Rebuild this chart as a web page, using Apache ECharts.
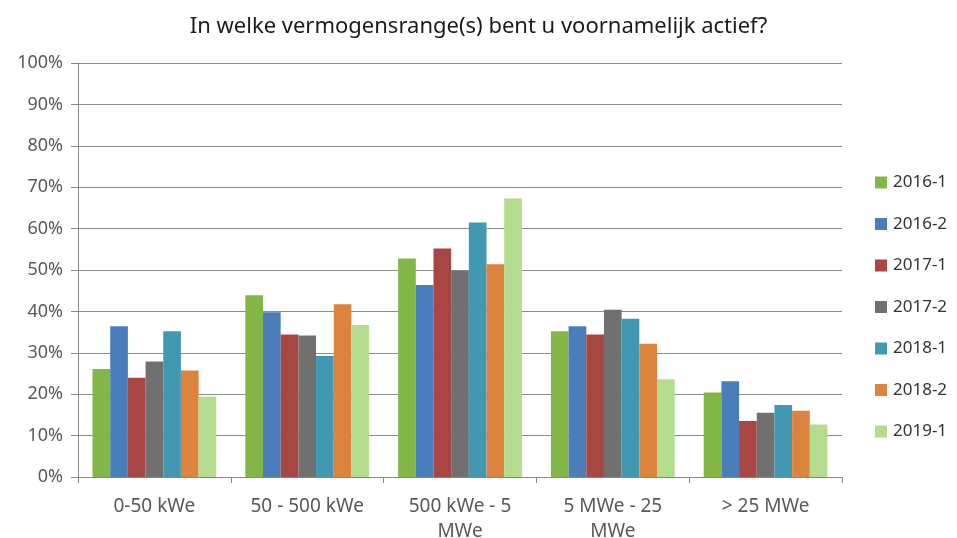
<!DOCTYPE html>
<html>
<head>
<meta charset="utf-8">
<script src="https://cdn.jsdelivr.net/npm/echarts@6/dist/echarts.min.js"></script>
<style>html,body{margin:0;padding:0;background:#fff;overflow:hidden}#c{width:957px;height:538px}</style>
</head>
<body>
<div id="c"></div>
<script>
const titleText = 'In welke vermogensrange(s) bent u voornamelijk actief?';
const categories = ['0-50 kWe', '50 - 500 kWe', '500 kWe - 5\nMWe', '5 MWe - 25\nMWe', '> 25 MWe'];
const seriesNames = ['2016-1', '2016-2', '2017-1', '2017-2', '2018-1', '2018-2', '2019-1'];
const colors = ['#82b646', '#4a7ebb', '#a84644', '#707070', '#4298b0', '#dc833e', '#b3dc8f'];
const s2016_1 = [26.1, 43.9, 52.8, 35.2, 20.4];
const s2016_2 = [36.4, 39.8, 46.4, 36.4, 23.1];
const s2017_1 = [24.0, 34.4, 55.2, 34.4, 13.5];
const s2017_2 = [27.9, 34.2, 49.8, 40.4, 15.5];
const s2018_1 = [35.2, 29.2, 61.5, 38.2, 17.4];
const s2018_2 = [25.7, 41.7, 51.4, 32.2, 16.0];
const s2019_1 = [19.4, 36.7, 67.3, 23.6, 12.7];
const seriesValues = [s2016_1, s2016_2, s2017_1, s2017_2, s2018_1, s2018_2, s2019_1];

const font = 'Noto Sans';
const chart = echarts.init(document.getElementById('c'), null, {renderer: 'canvas', width: 957, height: 538});
chart.setOption({
  animation: false,
  color: colors,
  title: {
    text: titleText, left: 'center', top: 11,
    textStyle: {fontFamily: font, fontSize: 22, fontWeight: 'normal', color: '#1a1a1a'}
  },
  legend: {
    orient: 'vertical', left: 875, top: 174, padding: 0,
    itemWidth: 12, itemHeight: 12, itemGap: 24.5,
    icon: 'rect',
    textStyle: {fontFamily: font, fontSize: 17, color: '#333', lineHeight: 17, padding: [0, 0, 0, 1]},
    data: seriesNames
  },
  grid: {left: 78, top: 63, width: 764, height: 414, containLabel: false, outerBoundsMode: 'none'},
  xAxis: {
    type: 'category', data: categories,
    axisLine: {lineStyle: {color: '#868686', width: 1}},
    axisTick: {show: true, length: 6, alignWithLabel: false, lineStyle: {color: '#868686'}},
    axisLabel: {fontFamily: font, fontSize: 19, color: '#595959', margin: 17, lineHeight: 25, interval: 0}
  },
  yAxis: {
    type: 'value', min: 0, max: 100, interval: 10,
    axisLine: {show: true, lineStyle: {color: '#868686'}},
    axisTick: {show: true, length: 7, lineStyle: {color: '#868686'}},
    axisLabel: {fontFamily: font, fontSize: 18, color: '#595959', margin: 15, formatter: v => v + '%'},
    splitLine: {lineStyle: {color: '#8c8c8c', width: 1}}
  },
  series: seriesNames.map((n, i) => ({
    name: n, type: 'bar', data: seriesValues[i],
    barGap: '0%', barCategoryGap: '19%',
    itemStyle: {color: colors[i]}
  }))
});
</script>
</body>
</html>
